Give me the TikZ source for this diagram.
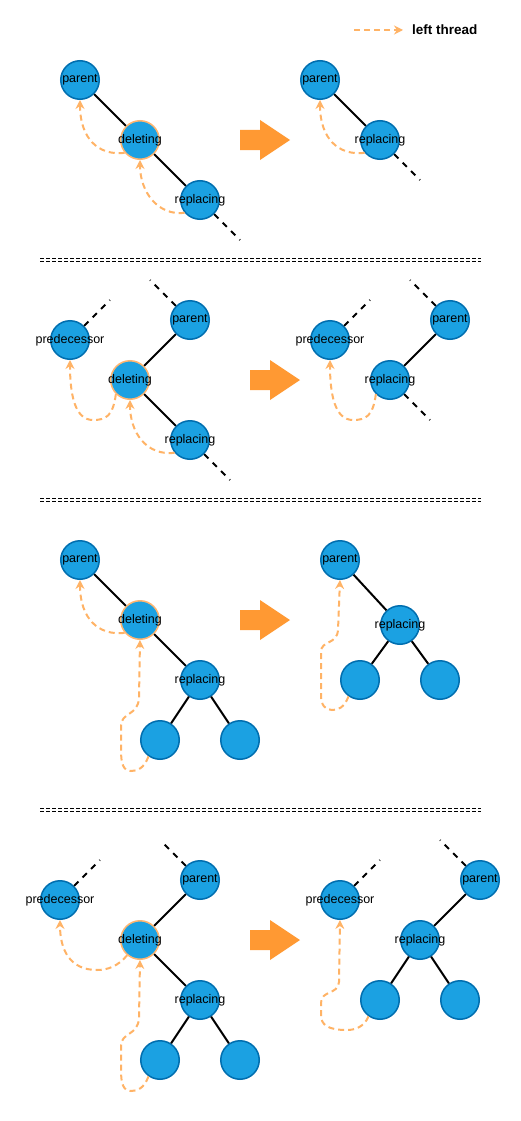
\documentclass[tikz,border=0pt]{standalone}
\usepackage{fontspec}
\setmainfont{Liberation Sans}
\usetikzlibrary{arrows.meta}
\definecolor{nodefill}{HTML}{1BA1E2}
\definecolor{nodeline}{HTML}{006EAF}
\definecolor{threadc}{HTML}{FFB366}
\definecolor{delline}{HTML}{FFB570}
\definecolor{bigarrowc}{HTML}{FF9933}
\newcommand\zw[1]{\makebox[0pt]{#1}}
\begin{document}
\begin{tikzpicture}[x=1pt,y=-1pt,
  tn/.style={circle, fill=nodefill, draw=nodeline, line width=1.5pt, minimum size=38.5pt, inner sep=0pt, font=\fontsize{12.5}{14}\selectfont},
  deln/.style={tn, draw=delline},
  edge/.style={line width=2pt, black},
  stub/.style={line width=2pt, black, dash pattern=on 6pt off 6pt},
  thread/.style={line width=2pt, threadc, dash pattern=on 6pt off 4pt, -{Stealth[length=9pt,width=9pt,inset=3pt]}},
  sep/.style={line width=0.8pt, black, dash pattern=on 4pt off 2pt},
  fatarrow/.style={fill=bigarrowc}
]
\fill[white] (0,0) rectangle (521,1121);
\useasboundingbox (0,0) rectangle (521,1121);

% legend
\coordinate (lg1) at (354,30);
\coordinate (lg2) at (403,30);
\draw[thread] (lg1) -- (lg2);
\node[font=\bfseries\fontsize{13.5}{15}\selectfont, anchor=west, inner sep=0pt] (lgt) at (412,30) {left thread};

% separators
\foreach \yy in {258.5,261.5,498.5,501.5,808.5,811.5}{
  \draw[sep] (40,\yy) -- (481,\yy);
}

% ===== Section 1 =====
\node[tn] (p1) at (80,80) {\zw{parent}};
\node[deln] (d1) at (140,140) {\zw{deleting}};
\node[tn] (r1) at (200,200) {\zw{replacing}};
\coordinate (r1e) at (240,240);
\draw[edge] (p1) -- (d1);
\draw[edge] (d1) -- (r1);
\draw[stub] (r1) -- (r1e);
\draw[thread] (d1.220) .. controls (98,156) and (80,138) .. (p1.south);
\draw[thread] (r1.220) .. controls (158,216) and (140,192) .. (d1.south);

\fill[fatarrow] (240,130) -- (260,130) -- (260,120) -- (290,140) -- (260,160) -- (260,150) -- (240,150) -- cycle;

\node[tn] (p1b) at (320,80) {\zw{parent}};
\node[tn] (r1b) at (380,140) {\zw{replacing}};
\coordinate (r1be) at (420,180);
\draw[edge] (p1b) -- (r1b);
\draw[stub] (r1b) -- (r1be);
\draw[thread] (r1b.220) .. controls (338,156) and (320,138) .. (p1b.south);

% ===== Section 2 =====
\node[tn] (pr2) at (70,340) {\zw{predecessor}};
\node[tn] (p2) at (190,320) {\zw{parent}};
\node[deln] (d2) at (130,380) {\zw{deleting}};
\node[tn] (r2) at (190,440) {\zw{replacing}};
\coordinate (pr2e) at (110,300);
\coordinate (p2e) at (150,280);
\coordinate (r2e) at (230,480);
\draw[stub] (pr2) -- (pr2e);
\draw[stub] (p2) -- (p2e);
\draw[stub] (r2) -- (r2e);
\draw[edge] (p2) -- (d2);
\draw[edge] (d2) -- (r2);
\draw[thread] (d2.225) .. controls (113,416) and (106,420) .. (93,420) .. controls (75,420) and (70,395) .. (pr2.south);
\draw[thread] (r2.220) .. controls (146,456) and (130,432) .. (d2.south);

\fill[fatarrow] (250,370) -- (270,370) -- (270,360) -- (300,380) -- (270,400) -- (270,390) -- (250,390) -- cycle;

\node[tn] (pr2b) at (330,340) {\zw{predecessor}};
\node[tn] (p2b) at (450,320) {\zw{parent}};
\node[tn] (r2b) at (390,380) {\zw{replacing}};
\coordinate (pr2be) at (370,300);
\coordinate (p2be) at (410,280);
\coordinate (r2be) at (430,420);
\draw[stub] (pr2b) -- (pr2be);
\draw[stub] (p2b) -- (p2be);
\draw[stub] (r2b) -- (r2be);
\draw[edge] (p2b) -- (r2b);
\draw[thread] (r2b.225) .. controls (373,416) and (366,420) .. (353,420) .. controls (335,420) and (330,395) .. (pr2b.south);

% ===== Section 3 =====
\node[tn] (p3) at (80,560) {\zw{parent}};
\node[deln] (d3) at (140,620) {\zw{deleting}};
\node[tn] (r3) at (200,680) {\zw{replacing}};
\node[tn] (c3a) at (160,740) {};
\node[tn] (c3b) at (240,740) {};
\draw[edge] (p3) -- (d3);
\draw[edge] (d3) -- (r3);
\draw[edge] (r3) -- (c3a);
\draw[edge] (r3) -- (c3b);
\draw[thread] (d3.220) .. controls (98,636) and (80,618) .. (p3.south);
\draw[thread] (c3a.235) .. controls (144,768) and (138,771) .. (131,771) .. controls (123,771) and (121,763) .. (121,750) -- (121,726) .. controls (121,712) and (138,716) .. (139,698) -- (d3.south);

\fill[fatarrow] (240,610) -- (260,610) -- (260,600) -- (290,620) -- (260,640) -- (260,630) -- (240,630) -- cycle;

\node[tn] (p3b) at (340,560) {\zw{parent}};
\node[tn] (r3b) at (400,625) {\zw{replacing}};
\node[tn] (c3c) at (360,680) {};
\node[tn] (c3d) at (440,680) {};
\draw[edge] (p3b) -- (r3b);
\draw[edge] (r3b) -- (c3c);
\draw[edge] (r3b) -- (c3d);
\draw[thread] (c3c.235) .. controls (344,708) and (338,710) .. (332,710) .. controls (325,710) and (321,705) .. (321,695) -- (321,652) .. controls (321,640) and (337,645) .. (338,630) -- (p3b.south);

% ===== Section 4 =====
\node[tn] (pr4) at (60,900) {\zw{predecessor}};
\node[tn] (p4) at (200,880) {\zw{parent}};
\node[deln] (d4) at (140,940) {\zw{deleting}};
\node[tn] (r4) at (200,1000) {\zw{replacing}};
\node[tn] (c4a) at (160,1060) {};
\node[tn] (c4b) at (240,1060) {};
\coordinate (pr4e) at (100,860);
\coordinate (p4e) at (162,842);
\draw[stub] (pr4) -- (pr4e);
\draw[stub] (p4) -- (p4e);
\draw[edge] (p4) -- (d4);
\draw[edge] (d4) -- (r4);
\draw[edge] (r4) -- (c4a);
\draw[edge] (r4) -- (c4b);
\draw[thread] (d4.230) .. controls (118,966) and (108,970) .. (97,970) .. controls (70,970) and (60,950) .. (pr4.south);
\draw[thread] (c4a.235) .. controls (144,1088) and (138,1091) .. (131,1091) .. controls (123,1091) and (121,1083) .. (121,1070) -- (121,1046) .. controls (121,1032) and (138,1036) .. (139,1018) -- (d4.south);

\fill[fatarrow] (250,930) -- (270,930) -- (270,920) -- (300,940) -- (270,960) -- (270,950) -- (250,950) -- cycle;

\node[tn] (pr4b) at (340,900) {\zw{predecessor}};
\node[tn] (p4b) at (480,880) {\zw{parent}};
\node[tn] (r4b) at (420,940) {\zw{replacing}};
\node[tn] (c4c) at (380,1000) {};
\node[tn] (c4d) at (460,1000) {};
\coordinate (pr4be) at (380,860);
\coordinate (p4be) at (440,840);
\draw[stub] (pr4b) -- (pr4be);
\draw[stub] (p4b) -- (p4be);
\draw[edge] (p4b) -- (r4b);
\draw[edge] (r4b) -- (c4c);
\draw[edge] (r4b) -- (c4d);
\draw[thread] (c4c.235) .. controls (364,1027) and (355,1030) .. (347,1030) .. controls (328,1030) and (321,1025) .. (321,1015) -- (321,1003) .. controls (321,990) and (338,995) .. (339,982) -- (pr4b.south);
\end{tikzpicture}
\end{document}
